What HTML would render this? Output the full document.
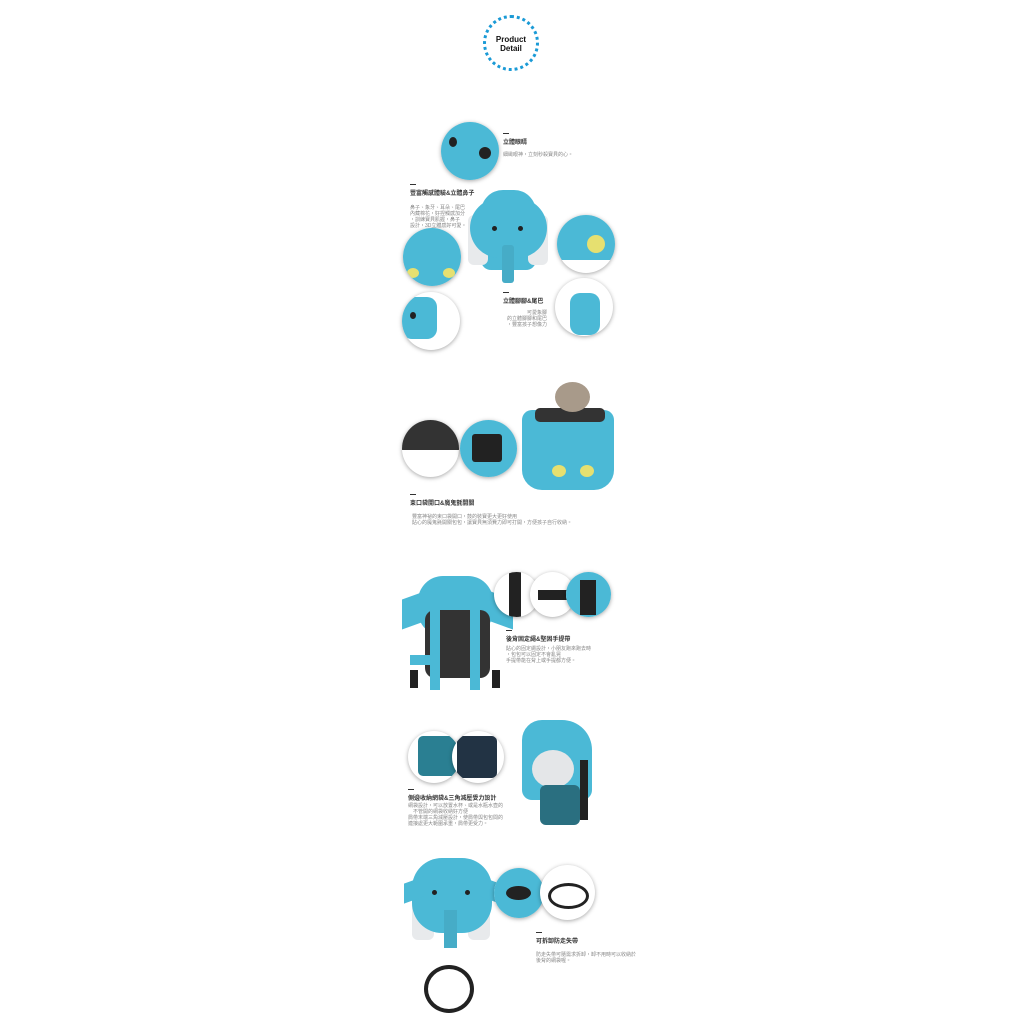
<!DOCTYPE html>
<html><head><meta charset="utf-8"><style>
body{margin:0;width:1024px;height:1024px;background:#fff;position:relative;overflow:hidden;font-family:"Liberation Sans","Noto Sans CJK TC",sans-serif}
.a{position:absolute}
.c{position:absolute;border-radius:50%;background:#fff;box-shadow:0 1px 4px rgba(0,0,0,.35);overflow:hidden}
.b{background:#4bb9d6}
.t{position:absolute;font-size:6px;font-weight:bold;color:#333;white-space:nowrap}
.t:before{content:"";position:absolute;left:0;top:-4px;width:6px;height:1px;background:#333}
.p{position:absolute;font-size:5px;color:#888;line-height:6px;white-space:nowrap}
</style></head><body>
<div class="a" style="left:483px;top:15px;width:50px;height:50px;border:3px dotted #1a9ad6;border-radius:50%;"></div>
<div class="a" style="left:486px;top:35px;width:50px;text-align:center;font-size:8px;font-weight:bold;line-height:9px;color:#111">Product<br>Detail</div>

<!-- section 1 -->
<div class="c" style="left:441px;top:122px;width:58px;height:58px"><div class="a b" style="left:0;top:0;width:58px;height:58px"></div><div class="a" style="left:8px;top:15px;width:8px;height:10px;background:#222;border-radius:50%"></div><div class="a" style="left:38px;top:25px;width:12px;height:12px;background:#222;border-radius:50%"></div></div>
<div class="t" style="left:503px;top:137px">立體眼睛</div>
<div class="p" style="left:503px;top:152px">細緻眼神，立刻秒殺寶貝的心。</div>
<div class="t" style="left:410px;top:188px">豐富觸感體驗&amp;立體鼻子</div>
<div class="p" style="left:410px;top:205px">鼻子、象牙、耳朵、尾巴<br>內藏棉花，好捏觸感加分<br>，訓練寶貝肌握，鼻子<br>設計，3D立體感好可愛。</div>
<div class="a b" style="left:481px;top:190px;width:55px;height:80px;border-radius:22px 22px 10px 10px"></div>
<div class="a" style="left:468px;top:215px;width:20px;height:50px;background:#e8eaec;border-radius:6px"></div>
<div class="a" style="left:528px;top:215px;width:20px;height:50px;background:#e8eaec;border-radius:6px"></div>
<div class="a b" style="left:470px;top:198px;width:77px;height:60px;border-radius:30px"></div>
<div class="a" style="left:492px;top:226px;width:5px;height:5px;background:#222;border-radius:50%"></div>
<div class="a" style="left:518px;top:226px;width:5px;height:5px;background:#222;border-radius:50%"></div>
<div class="a b" style="left:502px;top:245px;width:12px;height:38px;border-radius:3px;filter:brightness(.93)"></div>
<div class="c" style="left:403px;top:228px;width:58px;height:58px"><div class="a b" style="left:0;top:0;width:58px;height:58px"></div><div class="a" style="left:4px;top:40px;width:12px;height:10px;background:#e6e070;border-radius:50%"></div><div class="a" style="left:40px;top:40px;width:12px;height:10px;background:#e6e070;border-radius:50%"></div></div>
<div class="c" style="left:557px;top:215px;width:58px;height:58px"><div class="a b" style="left:0;top:0;width:58px;height:45px"></div><div class="a" style="left:30px;top:20px;width:18px;height:18px;background:#e6e070;border-radius:50%"></div></div>
<div class="c" style="left:402px;top:292px;width:58px;height:58px"><div class="a b" style="left:0;top:5px;width:35px;height:42px;border-radius:10px"></div><div class="a" style="left:8px;top:20px;width:6px;height:7px;background:#222;border-radius:50%"></div></div>
<div class="c" style="left:555px;top:278px;width:58px;height:58px"><div class="a b" style="left:15px;top:15px;width:30px;height:42px;border-radius:10px"></div></div>
<div class="t" style="left:503px;top:296px">立體腳腳&amp;尾巴</div>
<div class="p" style="left:503px;top:310px;text-align:right;width:44px">可愛象腳<br>的立體腳腳和尾巴<br>，豐富孩子想像力</div>

<!-- section 2 -->
<div class="c" style="left:402px;top:420px;width:57px;height:57px"><div class="a" style="left:0;top:0;width:57px;height:30px;background:#333"></div></div>
<div class="c" style="left:460px;top:420px;width:57px;height:57px"><div class="a b" style="left:0;top:0;width:57px;height:57px"></div><div class="a" style="left:12px;top:14px;width:30px;height:28px;background:#222;border-radius:3px"></div></div>
<div class="a b" style="left:522px;top:410px;width:92px;height:80px;border-radius:10px 10px 20px 20px"></div>
<div class="a" style="left:535px;top:408px;width:70px;height:14px;background:#333;border-radius:5px"></div>
<div class="a" style="left:555px;top:382px;width:35px;height:30px;background:#a89a8a;border-radius:50%"></div>
<div class="a" style="left:552px;top:465px;width:14px;height:12px;background:#e6e070;border-radius:50%"></div>
<div class="a" style="left:580px;top:465px;width:14px;height:12px;background:#e6e070;border-radius:50%"></div>
<div class="t" style="left:410px;top:498px">束口袋開口&amp;魔鬼氈開關</div>
<div class="p" style="left:412px;top:514px">豐富神祕的束口袋開口，鼓的裝寶更大更好使用<br>貼心的魔鬼氈開關包包，讓寶貝無須費力即可打開，方便孩子自行收納。</div>

<!-- section 3 -->
<div class="a b" style="left:418px;top:576px;width:75px;height:60px;border-radius:25px"></div>
<div class="a b" style="left:402px;top:595px;width:25px;height:30px;transform:skewY(-20deg)"></div>
<div class="a b" style="left:488px;top:595px;width:25px;height:30px;transform:skewY(20deg)"></div>
<div class="a" style="left:425px;top:610px;width:65px;height:68px;background:#333;border-radius:10px"></div>
<div class="a b" style="left:430px;top:600px;width:10px;height:90px"></div>
<div class="a b" style="left:470px;top:600px;width:10px;height:90px"></div>
<div class="a b" style="left:410px;top:655px;width:20px;height:10px"></div>
<div class="a" style="left:410px;top:670px;width:8px;height:18px;background:#222"></div>
<div class="a" style="left:492px;top:670px;width:8px;height:18px;background:#222"></div>
<div class="c" style="left:494px;top:572px;width:45px;height:45px"><div class="a" style="left:15px;top:0;width:12px;height:45px;background:#222"></div></div>
<div class="c" style="left:530px;top:572px;width:45px;height:45px"><div class="a" style="left:8px;top:18px;width:30px;height:10px;background:#222"></div></div>
<div class="c" style="left:566px;top:572px;width:45px;height:45px"><div class="a b" style="left:0;top:0;width:45px;height:45px"></div><div class="a" style="left:14px;top:8px;width:16px;height:35px;background:#222"></div></div>
<div class="t" style="left:506px;top:634px">後背固定繩&amp;堅固手提帶</div>
<div class="p" style="left:506px;top:646px">貼心的固定繩設計，小朋友跑來跑去時<br>，包包可以固定不會亂晃<br>手提帶能在背上或手提都方便。</div>

<!-- section 4 -->
<div class="c" style="left:408px;top:731px;width:52px;height:52px"><div class="a" style="left:10px;top:5px;width:40px;height:40px;background:#2a7f92;border-radius:5px"></div></div>
<div class="c" style="left:452px;top:731px;width:52px;height:52px"><div class="a" style="left:5px;top:5px;width:40px;height:42px;background:#234;border-radius:5px"></div></div>
<div class="a b" style="left:522px;top:720px;width:70px;height:80px;border-radius:20px 30px 10px 10px"></div>
<div class="a" style="left:532px;top:750px;width:42px;height:38px;background:#e4e6e8;border-radius:50%"></div>
<div class="a" style="left:540px;top:785px;width:40px;height:40px;background:#2a6f80;border-radius:6px"></div>
<div class="a" style="left:580px;top:760px;width:8px;height:60px;background:#222"></div>
<div class="t" style="left:408px;top:793px">側邊收納網袋&amp;三角減壓受力設計</div>
<div class="p" style="left:408px;top:803px">網袋設計，可以放置水杯、或是水瓶水壺的<br>　不管開的網袋收納好方便<br>肩帶末端三角減壓設計，使肩帶與包包間的<br>連接處更大範圍承重，肩帶更受力。</div>

<!-- section 5 -->
<div class="a" style="left:412px;top:880px;width:22px;height:60px;background:#e8eaec;border-radius:6px"></div>
<div class="a" style="left:468px;top:880px;width:22px;height:60px;background:#e8eaec;border-radius:6px"></div>
<div class="a b" style="left:412px;top:858px;width:80px;height:75px;border-radius:30px"></div>
<div class="a b" style="left:404px;top:880px;width:20px;height:20px;transform:skewY(-20deg)"></div>
<div class="a b" style="left:480px;top:880px;width:20px;height:20px;transform:skewY(20deg)"></div>
<div class="a" style="left:432px;top:890px;width:5px;height:5px;background:#222;border-radius:50%"></div>
<div class="a" style="left:465px;top:890px;width:5px;height:5px;background:#222;border-radius:50%"></div>
<div class="a b" style="left:444px;top:910px;width:13px;height:38px;filter:brightness(.93)"></div>
<div class="a" style="left:424px;top:965px;width:42px;height:40px;border:4px solid #222;border-radius:50%"></div>
<div class="c" style="left:494px;top:868px;width:50px;height:50px"><div class="a b" style="left:0;top:0;width:50px;height:50px"></div><div class="a" style="left:12px;top:18px;width:25px;height:14px;background:#222;border-radius:50%"></div></div>
<div class="c" style="left:540px;top:865px;width:55px;height:55px"><div class="a" style="left:8px;top:18px;width:35px;height:20px;border:3px solid #222;border-radius:50%"></div></div>
<div class="t" style="left:536px;top:936px">可拆卸防走失帶</div>
<div class="p" style="left:536px;top:952px">防走失帶可隨需求拆卸，卸不用時可以收納於<br>後背的網袋喔。</div>
</body></html>
